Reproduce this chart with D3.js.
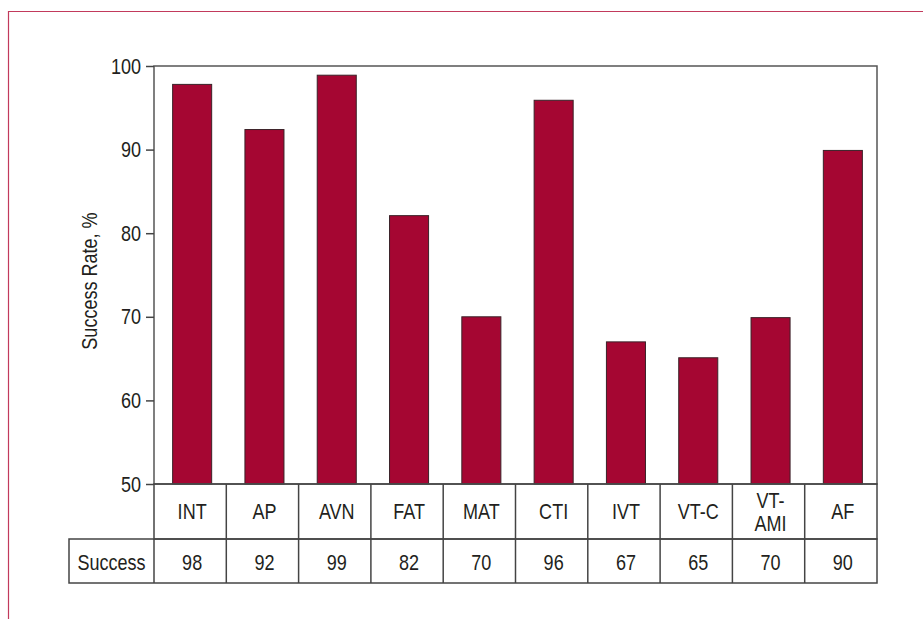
<!DOCTYPE html>
<html>
<head>
<meta charset="utf-8">
<script src="https://cdn.jsdelivr.net/npm/d3@7"></script>
<style>
  body { margin: 0; background: #fff; }
  svg text { font-family: "Liberation Sans", Arial, sans-serif; fill: #231f20; }
</style>
</head>
<body>
<svg id="chart" width="923" height="619"></svg>
<script>
const procedures = ["INT", "AP", "AVN", "FAT", "MAT", "CTI", "IVT", "VT-C", "VT-AMI", "AF"];
const successRates = [97.8, 92.4, 98.9, 82.1, 70.0, 95.9, 67.0, 65.1, 69.9, 89.9];
const successLabels = ["98", "92", "99", "82", "70", "96", "67", "65", "70", "90"];
const yTicks = [50, 60, 70, 80, 90, 100];

// the original uses a condensed face; squeeze Liberation Sans to get close
const squeeze = 0.82;
const fontSize = 22;

const svg = d3.select("#chart");

// thin crimson frame round the figure
svg.append("path")
    .attr("d", "M8.5,619 V11.5 H923")
    .attr("fill", "none")
    .attr("stroke", "#c23a5c")
    .attr("stroke-width", 1.2);

const plotLeft = 154, plotRight = 877, plotTop = 66, plotBottom = 484;

const x = d3.scaleBand()
    .domain(procedures)
    .range([plotLeft, plotRight]);

const y = d3.scaleLinear()
    .domain([50, 100])
    .range([plotBottom, plotTop]);

const colMid = (d) => x(d) + x.bandwidth() / 2 + 2;

// place a squeezed text at (px, py)
function narrow(sel, px, py) {
    sel.attr("transform", (d, i) => {
        const tx = typeof px === "function" ? px(d, i) : px;
        const ty = typeof py === "function" ? py(d, i) : py;
        return `translate(${tx},${ty}) scale(${squeeze},1)`;
    });
}

// bars
const barW = x.bandwidth() * 0.54;
svg.append("g").selectAll("rect")
    .data(procedures)
    .join("rect")
    .attr("x", (d) => x(d) + (x.bandwidth() - barW) / 2 + 2)
    .attr("y", (d, i) => y(successRates[i]))
    .attr("width", barW)
    .attr("height", (d, i) => y(50) - y(successRates[i]))
    .attr("fill", "#a50632")
    .attr("stroke", "#3a2228")
    .attr("stroke-width", 1);

// plot box
svg.append("rect")
    .attr("x", plotLeft)
    .attr("y", plotTop)
    .attr("width", plotRight - plotLeft)
    .attr("height", plotBottom - plotTop)
    .attr("fill", "none")
    .attr("stroke", "#555")
    .attr("stroke-width", 1.5);

// y axis
const yAxis = svg.append("g")
    .attr("transform", `translate(${plotLeft},0)`)
    .call(d3.axisLeft(y).tickValues(yTicks).tickSize(8));
yAxis.select(".domain").remove();
yAxis.selectAll(".tick line").attr("stroke", "#444").attr("stroke-width", 1.5);
yAxis.selectAll(".tick text")
    .attr("x", -13 / squeeze)
    .attr("transform", `scale(${squeeze},1)`)
    .attr("font-size", fontSize)
    .attr("fill", "#231f20")
    .style("font-family", "'Liberation Sans', Arial, sans-serif");

svg.append("text")
    .attr("transform", `translate(97,281) rotate(-90) scale(${squeeze},1)`)
    .attr("text-anchor", "middle")
    .attr("font-size", fontSize)
    .text("Success Rate, %");

// table under the chart
const rowCat = [plotBottom, 539];
const rowVal = [539, 583];
const labelLeft = 69;
const grid = svg.append("g").attr("fill", "none").attr("stroke", "#444").attr("stroke-width", 1.5);

grid.append("rect")
    .attr("x", plotLeft).attr("y", rowCat[0])
    .attr("width", plotRight - plotLeft).attr("height", rowCat[1] - rowCat[0]);
grid.append("rect")
    .attr("x", labelLeft).attr("y", rowVal[0])
    .attr("width", plotRight - labelLeft).attr("height", rowVal[1] - rowVal[0]);
grid.append("line")
    .attr("x1", plotLeft).attr("x2", plotLeft)
    .attr("y1", rowVal[0]).attr("y2", rowVal[1]);
grid.selectAll("line.sep")
    .data(procedures.slice(1))
    .join("line")
    .attr("class", "sep")
    .attr("x1", (d) => x(d)).attr("x2", (d) => x(d))
    .attr("y1", rowCat[0]).attr("y2", rowVal[1]);

// category names, long ones on two lines
const catText = svg.append("g").selectAll("text")
    .data(procedures)
    .join("text")
    .attr("text-anchor", "middle")
    .attr("font-size", fontSize)
    .call(narrow, colMid, (d) => (d === "VT-AMI" ? 508 : 519));

catText.each(function (d) {
    const parts = d === "VT-AMI" ? ["VT-", "AMI"] : [d];
    const t = d3.select(this);
    parts.forEach((p, k) => {
        t.append("tspan")
            .attr("x", 0)
            .attr("y", k * 23)
            .text(p);
    });
});

svg.append("text")
    .attr("text-anchor", "middle")
    .attr("font-size", fontSize)
    .call(narrow, (labelLeft + plotLeft) / 2, 570)
    .text("Success");

svg.append("g").selectAll("text")
    .data(procedures)
    .join("text")
    .attr("text-anchor", "middle")
    .attr("font-size", fontSize)
    .call(narrow, colMid, 570)
    .text((d, i) => successLabels[i]);
</script>
</body>
</html>
